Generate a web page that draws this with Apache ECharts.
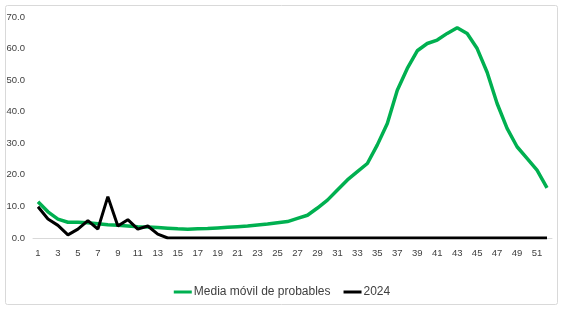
<!DOCTYPE html>
<html>
<head>
<meta charset="utf-8">
<script src="https://cdn.jsdelivr.net/npm/echarts@6/dist/echarts.min.js"></script>
<style>
html,body{margin:0;padding:0;background:#fff;}
#c{width:564px;height:310px;}
</style>
</head>
<body>
<div id="c"></div>
<script>
const weeks = Array.from({length: 52}, (_, i) => String(i + 1));
const mediaMovil = [11.5, 8.3, 6.0, 5.0, 5.0, 4.8, 4.5, 4.2, 4.0, 3.8, 3.6, 3.5, 3.3, 3.1, 2.9, 2.8, 2.9, 3.0, 3.2, 3.4, 3.6, 3.8, 4.1, 4.4, 4.8, 5.2, 6.2, 7.2, 9.5, 12.0, 15.2, 18.4, 21.0, 23.6, 29.5, 36.3, 46.8, 53.7, 59.3, 61.6, 62.7, 64.8, 66.6, 64.8, 60.0, 52.5, 42.6, 34.7, 28.9, 25.2, 21.5, 15.9];
const y2024 = [9.9, 6.0, 4.0, 1.0, 2.8, 5.5, 2.8, 13.1, 3.8, 5.8, 2.8, 3.8, 1.2, 0, 0, 0, 0, 0, 0, 0, 0, 0, 0, 0, 0, 0, 0, 0, 0, 0, 0, 0, 0, 0, 0, 0, 0, 0, 0, 0, 0, 0, 0, 0, 0, 0, 0, 0, 0, 0, 0, 0];
const yTicks = {min: 0, max: 70, interval: 10};

const chart = echarts.init(document.getElementById('c'), null, {renderer: 'canvas'});
const font = 'Liberation Sans, Arial, sans-serif';
chart.setOption({
  animation: false,
  backgroundColor: '#fff',
  graphic: [{
    type: 'rect', silent: true, z: -10,
    shape: {x: 5.5, y: 5.5, width: 552, height: 299, r: 2},
    style: {fill: '#fff', stroke: '#d9d9d9', lineWidth: 1}
  }],
  grid: {left: 33, right: 12, top: 17, bottom: 72, containLabel: false},
  legend: {
    bottom: 7,
    left: 'center',
    itemWidth: 18,
    itemHeight: 3,
    itemGap: 13,
    icon: 'rect',
    textStyle: {color: '#404040', fontSize: 12, fontFamily: font, padding: [0, 0, 0, -3]},
    data: ['Media móvil de probables', '2024']
  },
  xAxis: {
    type: 'category',
    data: weeks,
    boundaryGap: true,
    axisLine: {show: true, lineStyle: {color: '#d9d9d9', width: 1}},
    axisTick: {show: false},
    axisLabel: {interval: 1, color: '#404040', fontSize: 9.5, fontFamily: font, margin: 10}
  },
  yAxis: {
    type: 'value',
    min: yTicks.min, max: yTicks.max, interval: yTicks.interval,
    splitLine: {show: false},
    axisLine: {show: false},
    axisTick: {show: false},
    axisLabel: {color: '#404040', fontSize: 9.5, fontFamily: font, margin: 8,
      formatter: v => v.toFixed(1)}
  },
  series: [
    {
      name: 'Media móvil de probables', type: 'line', data: mediaMovil,
      symbol: 'none', lineStyle: {color: '#00b050', width: 3.5}, itemStyle: {color: '#00b050'}, z: 2
    },
    {
      name: '2024', type: 'line', data: y2024,
      symbol: 'none', lineStyle: {color: '#000000', width: 3}, itemStyle: {color: '#000000'}, z: 3
    }
  ]
});
</script>
</body>
</html>
